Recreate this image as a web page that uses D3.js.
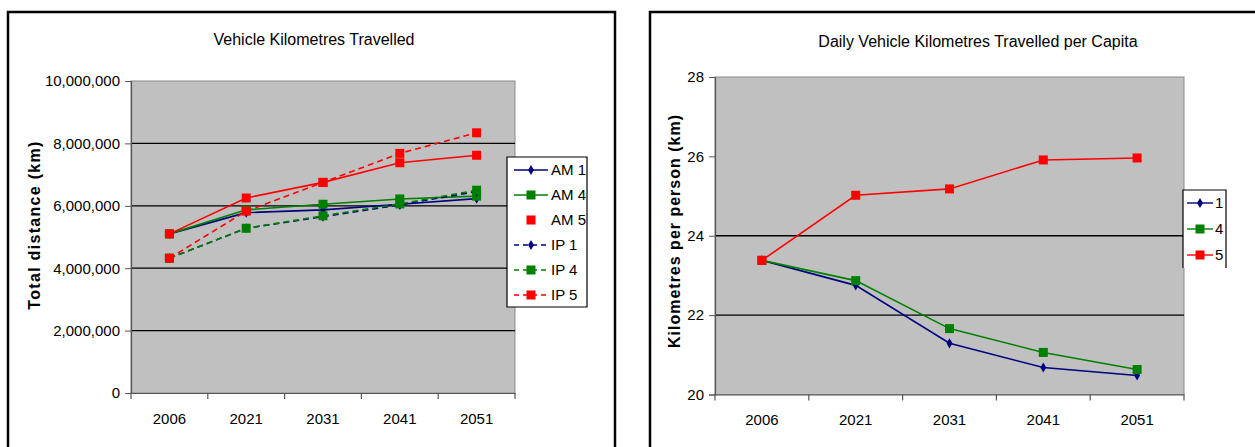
<!DOCTYPE html>
<html><head><meta charset="utf-8">
<script src="https://cdn.jsdelivr.net/npm/d3@7"></script>
<style>
body{margin:0;background:#fff;}
svg text{font-family:"Liberation Sans Narrow","Arial Narrow","Liberation Sans",Arial,sans-serif;fill:#000;}
</style></head>
<body><svg id="c" width="1255" height="447"></svg>
<script>
const years = ["2006","2021","2031","2041","2051"];
// Left chart: total vehicle km travelled
const am1 = [5100000, 5780000, 5870000, 6050000, 6230000];
const am4 = [5100000, 5870000, 6050000, 6220000, 6310000];
const am5 = [5100000, 6250000, 6750000, 7380000, 7620000];
const ip1 = [4320000, 5280000, 5650000, 6030000, 6460000];
const ip4 = [4320000, 5280000, 5680000, 6060000, 6500000];
const ip5 = [4320000, 5830000, 6750000, 7680000, 8340000];
const leftTicks = [0, 2000000, 4000000, 6000000, 8000000, 10000000];
// Right chart: daily km per capita
const pc1 = [23.38, 22.75, 21.29, 20.68, 20.48];
const pc4 = [23.38, 22.87, 21.66, 21.06, 20.63];
const pc5 = [23.38, 25.02, 25.18, 25.91, 25.96];
const rightTicks = [20, 22, 24, 26, 28];

const BLUE="#000080", GREEN="#008000", RED="#ff0000";
const svg = d3.select("#c");

function panel(o){
  const g = svg.append("g");
  g.append("rect").attr("x",o.bx).attr("y",o.by).attr("width",o.bw).attr("height",o.bh)
    .attr("fill","#fff").attr("stroke","#000").attr("stroke-width",2.5);
  const x = d3.scaleBand().domain(years).range([o.l,o.r]);
  const y = d3.scaleLinear().domain(o.dom).range([o.b,o.t]);
  g.append("rect").attr("x",o.l).attr("y",o.t).attr("width",o.r-o.l).attr("height",o.b-o.t)
    .attr("fill","#c0c0c0").attr("stroke","#8a8a8a").attr("stroke-width",1);
  g.append("g").selectAll("line").data(o.grid).join("line")
    .attr("x1",o.l).attr("x2",o.r).attr("y1",d=>y(d)).attr("y2",d=>y(d))
    .attr("stroke","#000").attr("stroke-width",1.3);
  const ya = g.append("g").attr("transform",`translate(${o.l},0)`)
    .call(d3.axisLeft(y).tickValues(o.ticks).tickSize(6).tickPadding(5).tickFormat(o.fmt));
  ya.select(".domain").attr("stroke","#555").attr("stroke-width",1.2);
  ya.selectAll(".tick line").attr("stroke","#555");
  ya.selectAll("text").attr("font-size",15).attr("fill","#000");
  const xa = g.append("g").attr("transform",`translate(0,${o.b})`)
    .call(d3.axisBottom(x).tickSize(0).tickPadding(20));
  xa.select(".domain").attr("stroke","#555").attr("stroke-width",1.2);
  xa.selectAll("text").attr("font-size",15);
  g.append("g").selectAll("line").data(d3.range(years.length+1)).join("line")
    .attr("x1",i=>o.l+i*x.step()).attr("x2",i=>o.l+i*x.step())
    .attr("y1",o.b).attr("y2",o.b+6).attr("stroke","#555").attr("stroke-width",1.2);
  g.append("text").attr("x",o.tx).attr("y",o.ty).attr("text-anchor","middle")
    .attr("font-size",16).text(o.title);
  g.append("text").attr("transform",`translate(${o.yx},${o.yy}) rotate(-90)`)
    .attr("text-anchor","middle").attr("font-size",16).attr("font-weight","bold")
    .attr("letter-spacing",o.ls)
    .style("font-family","'Liberation Sans',Arial,sans-serif").text(o.ytitle);
  return {g,x,y};
}

function marker(sel, type, color, cx, cy){
  if(type==="diamond"){
    sel.append("path").attr("d",d3.symbol(d3.symbolDiamond,30)())
      .attr("transform",`translate(${cx},${cy})`).attr("fill",color);
  } else if(type==="square"){
    sel.append("rect").attr("x",cx-4.5).attr("y",cy-4.5).attr("width",9).attr("height",9).attr("fill",color);
  }
}

function series(p, vals, color, dash, mk, showLine){
  const line = d3.line().x((d,i)=>p.x(years[i])+p.x.bandwidth()/2).y(d=>p.y(d));
  if(showLine!==false)
    p.g.append("path").datum(vals).attr("d",line).attr("fill","none")
      .attr("stroke",color).attr("stroke-width",1.6).attr("stroke-dasharray",dash||null);
  const mg = p.g.append("g");
  vals.forEach((v,i)=>marker(mg,mk,color,p.x(years[i])+p.x.bandwidth()/2,p.y(v)));
}

function legend(p, o, items){
  const lg = p.g.append("g");
  lg.append("rect").attr("x",o.x).attr("y",o.y).attr("width",o.w).attr("height",o.h)
    .attr("fill","#fff").attr("stroke","none");
  const {x,y,w,h} = o;
  const d = o.open ? `M${x},${y+h}V${y}H${x+w}V${y+h}` : `M${x},${y}H${x+w}V${y+h}H${x}Z`;
  lg.append("path").attr("d",d).attr("fill","none").attr("stroke","#000").attr("stroke-width",1.2);
  items.forEach((it,i)=>{
    const yy = o.y0 + i*o.dy;
    if(it.line) lg.append("line").attr("x1",o.lx1).attr("x2",o.lx2).attr("y1",yy).attr("y2",yy)
      .attr("stroke",it.color).attr("stroke-width",1.4).attr("stroke-dasharray",it.dash||null);
    marker(lg,it.mk,it.color,(o.lx1+o.lx2)/2,yy);
    lg.append("text").attr("x",o.tx).attr("y",yy).attr("dy","0.35em").attr("font-size",15).text(it.name);
  });
}

// LEFT
const L = panel({bx:8,by:12,bw:607,bh:460,l:131,r:515,t:81,b:393,dom:[0,10000000],
  grid:[2000000,4000000,6000000,8000000],ticks:leftTicks,fmt:d3.format(","),
  title:"Vehicle Kilometres Travelled",tx:314,ty:45,ytitle:"Total distance (km)",yx:40,yy:225,ls:1.3});
series(L, am1, BLUE, null, "diamond");
series(L, am4, GREEN, null, "square");
series(L, am5, RED, null, "square");
series(L, ip1, BLUE, "6,4", "diamond");
series(L, ip4, GREEN, "6,4", "square");
series(L, ip5, RED, "6,4", "square");
legend(L, {x:507,y:157,w:80,h:150,y0:170,dy:25,lx1:514,lx2:548,tx:551}, [
  {name:"AM 1",color:BLUE,mk:"diamond",line:true},
  {name:"AM 4",color:GREEN,mk:"square",line:true},
  {name:"AM 5",color:RED,mk:"square",line:false},
  {name:"IP 1",color:BLUE,mk:"diamond",line:true,dash:"5,4"},
  {name:"IP 4",color:GREEN,mk:"square",line:true,dash:"5,4"},
  {name:"IP 5",color:RED,mk:"square",line:true,dash:"5,4"}]);

// RIGHT
const R = panel({bx:650,by:12,bw:640,bh:460,l:715,r:1184,t:77,b:394.5,dom:[20,28],
  grid:[22,24],ticks:rightTicks,fmt:d3.format("d"),
  title:"Daily Vehicle Kilometres Travelled per Capita",tx:978,ty:47,
  ytitle:"Kilometres per person (km)",yx:680,yy:231,ls:1});
series(R, pc1, BLUE, null, "diamond");
series(R, pc4, GREEN, null, "square");
series(R, pc5, RED, null, "square");
legend(R, {x:1183,y:190,w:43,h:78,y0:203,dy:26,lx1:1187,lx2:1213,tx:1215,open:true}, [
  {name:"1",color:BLUE,mk:"diamond",line:true},
  {name:"4",color:GREEN,mk:"square",line:true},
  {name:"5",color:RED,mk:"square",line:true}]);
</script></body></html>
